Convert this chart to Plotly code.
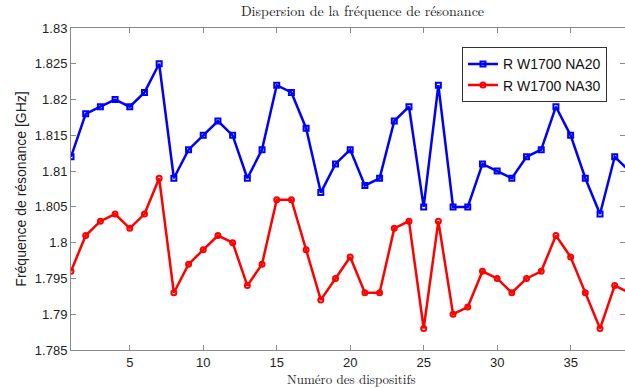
import plotly.graph_objects as go

dispositifs = list(range(1, 40))
na20 = [1.812, 1.818, 1.819, 1.820, 1.819, 1.821, 1.825, 1.809, 1.813, 1.815,
        1.817, 1.815, 1.809, 1.813, 1.822, 1.821, 1.816, 1.807, 1.811, 1.813,
        1.808, 1.809, 1.817, 1.819, 1.805, 1.822, 1.805, 1.805, 1.811, 1.810,
        1.809, 1.812, 1.813, 1.819, 1.815, 1.809, 1.804, 1.812, 1.810]
na30 = [1.796, 1.801, 1.803, 1.804, 1.802, 1.804, 1.809, 1.793, 1.797, 1.799,
        1.801, 1.800, 1.794, 1.797, 1.806, 1.806, 1.799, 1.792, 1.795, 1.798,
        1.793, 1.793, 1.802, 1.803, 1.788, 1.803, 1.790, 1.791, 1.796, 1.795,
        1.793, 1.795, 1.796, 1.801, 1.798, 1.793, 1.788, 1.794, 1.793]
y_ticks = [1.785, 1.79, 1.795, 1.8, 1.805, 1.81, 1.815, 1.82, 1.825, 1.83]
y_labels = ["1.785", "1.79", "1.795", "1.8", "1.805", "1.81", "1.815", "1.82", "1.825", "1.83"]

fig = go.Figure()
fig.add_trace(go.Scatter(
    x=dispositifs, y=na20, mode="lines+markers", name="R W1700 NA20",
    line=dict(color="#0000ff", width=2.5),
    marker=dict(symbol="square-open", size=5, color="#0000ff", line=dict(width=2)),
))
fig.add_trace(go.Scatter(
    x=dispositifs, y=na30, mode="lines+markers", name="R W1700 NA30",
    line=dict(color="#ff0000", width=2.5),
    marker=dict(symbol="circle-open", size=5, color="#ff0000", line=dict(width=2)),
))

serif = "Latin Modern Roman, DejaVu Serif, serif"
fig.update_layout(
    width=625, height=388,
    margin=dict(l=71, r=0, t=28, b=38),
    paper_bgcolor="white", plot_bgcolor="white",
    font=dict(family="Liberation Sans, Arial, sans-serif", size=13, color="#222"),
    title=dict(text="Dispersion de la fréquence de résonance", x=0.58, xanchor="center",
               y=0.985, yanchor="top", font=dict(family=serif, size=14, color="#222")),
    showlegend=True,
    legend=dict(x=0.9675, xanchor="right", y=0.94, yanchor="top",
                bgcolor="white", bordercolor="#333", borderwidth=1,
                font=dict(size=14, color="#111"), tracegroupgap=0, itemwidth=30),
    xaxis=dict(range=[1, 38.7], tickvals=[5, 10, 15, 20, 25, 30, 35],
               ticks="inside", ticklen=5, tickcolor="#888", showgrid=False, zeroline=False,
               showline=True, linecolor="#888", mirror="ticks"),
    yaxis=dict(range=[1.785, 1.83], tickvals=y_ticks, ticktext=y_labels,
               ticks="inside", ticklen=5, tickcolor="#888", showgrid=False, zeroline=False,
               showline=True, linecolor="#888", mirror="ticks",
               title=dict(text="Fréquence de résonance [GHz]", standoff=4,
                          font=dict(size=14, color="#222"))),
    annotations=[dict(text="Numéro des dispositifs", xref="paper", yref="paper",
                      x=0.507, y=-0.089, xanchor="center", yanchor="middle",
                      showarrow=False, font=dict(family=serif, size=13, color="#222"))],
)

fig.write_html("out.html", config={"displayModeBar": False},
               post_script="document.body.style.margin='0';")
